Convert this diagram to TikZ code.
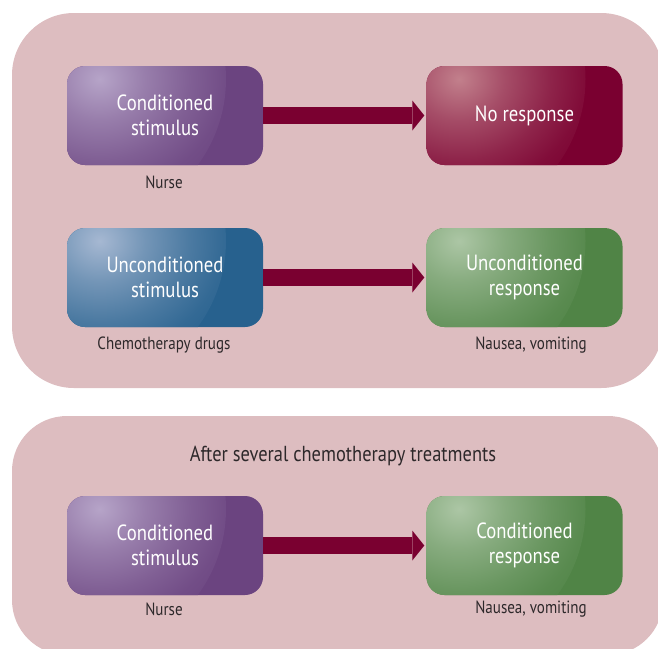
\documentclass[tikz,border=0pt]{standalone}
\usepackage{fontspec}
\setmainfont{PT Sans}[FakeStretch=0.85]
\usetikzlibrary{arrows.meta}

\definecolor{panelpink}{RGB}{221,189,192}
\definecolor{arrowred}{RGB}{122,0,48}
\definecolor{notegray}{RGB}{45,40,42}
\definecolor{purplelight}{RGB}{182,164,200}
\definecolor{purpledark}{RGB}{107,68,128}
\definecolor{redlight}{RGB}{194,128,140}
\definecolor{reddark}{RGB}{122,0,48}
\definecolor{bluelight}{RGB}{166,184,210}
\definecolor{bluedark}{RGB}{39,97,142}
\definecolor{greenlight}{RGB}{172,198,165}
\definecolor{greendark}{RGB}{80,132,70}
\colorlet{glowin}{white}
\colorlet{glowout}{black}

\pgfdeclareradialshading[glowin,glowout]{glow}{\pgfpointorigin}{color(0bp)=(glowin); color(7bp)=(glowin!60!glowout); color(14bp)=(glowin!28!glowout); color(19bp)=(glowin!10!glowout); color(23bp)=(glowin!2!glowout); color(25bp)=(glowout); color(50bp)=(glowout)}

\tikzset{
  box/.style={rounded corners=18pt, minimum width=196pt, minimum height=99pt,
    inner sep=0pt, align=center, text=white, font=\fontsize{22}{25}\selectfont},
  glowbox/.style 2 args={box, fill=#2,
    path picture={\colorlet{glowin}{#1}\colorlet{glowout}{#2}
      \shade[shading=glow]
      ([shift={(14pt,-13pt)}]path picture bounding box.north west) circle (145pt);}},
  purplebox/.style={glowbox={purplelight}{purpledark}},
  redbox/.style={glowbox={redlight}{reddark}},
  bluebox/.style={glowbox={bluelight}{bluedark}},
  greenbox/.style={glowbox={greenlight}{greendark}},
  note/.style={text=notegray, font=\fontsize{17.7}{21}\selectfont},
  flow/.style={arrowred, line width=17pt, shorten >=2pt,
    -{Triangle[length=12pt,width=30pt,line width=0pt]}}
}

\begin{document}
\begin{tikzpicture}[x=1pt,y=-1pt]
 \useasboundingbox (0,0) rectangle (658,648);
 \clip (0,0) rectangle (658,648);
 \fill[panelpink, rounded corners=62pt] (12,13) rectangle (663,388);
 \fill[panelpink, rounded corners=55pt] (12,416) rectangle (663,655);

 \node[purplebox] (cs1) at (165,115.5) {Conditioned\\stimulus};
 \node[redbox] (nr) at (524.5,115.5) {No response};
 \node[bluebox] (us) at (165,277.5) {Unconditioned\\stimulus};
 \node[greenbox] (ur) at (524.5,277.5) {Unconditioned\\response};
 \node[purplebox] (cs2) at (165,545.5) {Conditioned\\stimulus};
 \node[greenbox] (cr) at (524.5,545.5) {Conditioned\\response};

 \draw[flow] (cs1) -- (nr);
 \draw[flow] (us) -- (ur);
 \draw[flow] (cs2) -- (cr);

 \node[note] (nurse1) at (164,182) {Nurse};
 \node[note] (drugs) at (164,345) {Chemotherapy drugs};
 \node[note] (nausea1) at (531,345) {Nausea, vomiting};
 \node[note, font=\fontsize{21.7}{25}\selectfont] (after) at (343,456) {After several chemotherapy treatments};
 \node[note] (nurse2) at (164,609) {Nurse};
 \node[note] (nausea2) at (531,609) {Nausea, vomiting};
\end{tikzpicture}
\end{document}
